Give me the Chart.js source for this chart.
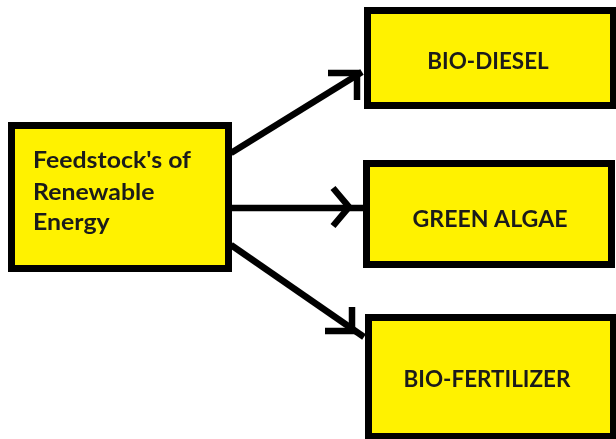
<!DOCTYPE html>
<html>
<head>
<meta charset="utf-8">
<script src="https://cdn.jsdelivr.net/npm/chart.js@4.4.0/dist/chart.umd.min.js"></script>
<style>
  html, body { margin: 0; padding: 0; background: #fff; }
  #wrap { width: 616px; height: 439px; }
</style>
</head>
<body>
<div id="wrap"><canvas id="flowChart"></canvas></div>
<script>
// diagram content: node texts and edges (source -> target)
const nodeLabels = [["Feedstock's of", 'Renewable', 'Energy'], ['BIO-DIESEL'], ['GREEN ALGAE'], ['BIO-FERTILIZER']];
const edgeFrom = [0, 0, 0];
const edgeTo = [1, 2, 3];

// layout, in axis units (x 0..616, y 0..439 going down)
const boxes = [
  { x0: 8, y0: 122, x1: 232, y1: 272 },
  { x0: 364, y0: 7, x1: 617, y1: 109 },
  { x0: 363, y0: 160, x1: 615, y1: 268 },
  { x0: 365, y0: 314, x1: 617, y1: 440 }
];
const shafts = [
  [{ x: 231, y: 153 }, { x: 362, y: 72 }],
  [{ x: 231, y: 208 }, { x: 364, y: 208 }],
  [{ x: 231, y: 245 }, { x: 364, y: 337 }]
];
const heads = [
  [{ x: 328, y: 73 }, { x: 357, y: 73 }, { x: 357, y: 100 }],
  [{ x: 333, y: 188 }, { x: 349, y: 207 }, { x: 333, y: 226 }],
  [{ x: 352, y: 307 }, { x: 352, y: 331 }, { x: 325, y: 331 }]
];

const yellow = '#fff200';
const ink = '#1b1b1b';

const datasets = [];
edgeFrom.forEach((from, i) => {
  datasets.push({
    label: nodeLabels[from][0] + ' -> ' + nodeLabels[edgeTo[i]][0],
    data: shafts[i],
    showLine: true,
    borderColor: '#000',
    borderWidth: 6.5,
    pointRadius: 0
  });
  datasets.push({
    label: 'head ' + i,
    data: heads[i],
    showLine: true,
    borderColor: '#000',
    borderWidth: 6.5,
    borderJoinStyle: 'miter',
    pointRadius: 0
  });
});

// text drawn a little wider than the font, like the original
function wideText(ctx, text, x, y, sx) {
  ctx.save();
  ctx.translate(x, y);
  ctx.scale(sx, 1);
  ctx.fillText(text, 0, 0);
  ctx.restore();
}

// draws the boxes and their texts over the arrows
const boxPlugin = {
  id: 'boxPlugin',
  afterDatasetsDraw(chart) {
    const ctx = chart.ctx;
    const xs = chart.scales.x;
    const ys = chart.scales.y;
    ctx.save();
    boxes.forEach((b, i) => {
      const left = xs.getPixelForValue(b.x0);
      const right = xs.getPixelForValue(b.x1);
      const top = ys.getPixelForValue(b.y0);
      const bottom = ys.getPixelForValue(b.y1);
      const lw = 7;
      ctx.fillStyle = yellow;
      ctx.fillRect(left, top, right - left, bottom - top);
      ctx.strokeStyle = '#000';
      ctx.lineWidth = lw;
      ctx.strokeRect(left + lw / 2, top + lw / 2, right - left - lw, bottom - top - lw);

      ctx.fillStyle = ink;
      const lines = nodeLabels[i];
      if (i === 0) {
        ctx.font = 'bold 22px Lato';
        ctx.textAlign = 'left';
        ctx.textBaseline = 'alphabetic';
        const baselines = [168, 200, 230];
        lines.forEach((t, k) => {
          wideText(ctx, t, xs.getPixelForValue(33), ys.getPixelForValue(baselines[k]), 1.13);
        });
      } else {
        const centers = [null, { x: 488, y: 62 }, { x: 490, y: 220 }, { x: 487, y: 380 }];
        ctx.font = 'bold 22px Lato';
        ctx.textAlign = 'center';
        ctx.textBaseline = 'middle';
        wideText(ctx, lines[0], xs.getPixelForValue(centers[i].x), ys.getPixelForValue(centers[i].y), i === 2 ? 1.05 : 1.02);
      }
    });
    ctx.restore();
  }
};

new Chart(document.getElementById('flowChart'), {
  type: 'scatter',
  data: { datasets },
  options: {
    animation: false,
    responsive: true,
    maintainAspectRatio: false,
    layout: { padding: 0 },
    plugins: { legend: { display: false }, tooltip: { enabled: false } },
    scales: {
      x: { type: 'linear', min: 0, max: 616, display: false },
      y: { type: 'linear', min: 0, max: 439, reverse: true, display: false }
    }
  },
  plugins: [boxPlugin]
});
</script>
</body>
</html>
